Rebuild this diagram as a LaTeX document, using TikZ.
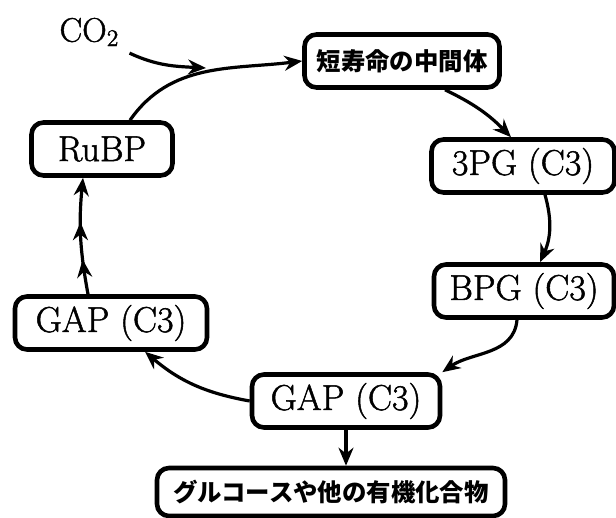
\documentclass[tikz,border=0pt]{standalone}
\usepackage{fontspec}
\usepackage{tikz}
\usetikzlibrary{arrows.meta,decorations.markings}
\newfontfamily\jpfont{Noto Sans CJK JP}
\newfontfamily\labelfont{Latin Modern Roman}[FakeBold=1.4]

\begin{document}
\begin{tikzpicture}[x=0.5pt, y=0.5pt,
    stage/.style={draw, line width=2.3pt, rounded corners=6pt, fill=white,
        minimum height=26.5pt, inner xsep=4pt, inner ysep=2pt,
        font=\labelfont\fontsize{18}{20}\selectfont},
    jpstage/.style={stage, font=\jpfont\bfseries\fontsize{12.2}{14}\selectfont},
    flow/.style={line width=1.6pt, -{Stealth[length=9pt, width=7.5pt]}},
    multiflow/.style={line width=1.6pt, -{Stealth[length=9pt, width=7.5pt]},
        postaction={decorate},
        decoration={markings,
            mark=at position 0.3 with {\arrow{Stealth[length=9pt, width=7.5pt]}},
            mark=at position 0.62 with {\arrow{Stealth[length=9pt, width=7.5pt]}}}}
]
    \useasboundingbox (0,0) rectangle (616,-518);

    % cycle stages
    \node (mid)  [jpstage, minimum width=97.5pt] at (402,-61)  {短寿命の中間体};
    \node (pga)  [stage, minimum width=91.5pt]   at (523,-166) {3PG (C3)};
    \node (bpg)  [stage, minimum width=90pt]     at (524,-291) {BPG (C3)};
    \node (gapb) [stage, minimum width=94pt]     at (346,-401) {GAP (C3)};
    \node (gapl) [stage, minimum width=96pt]     at (111,-323) {GAP (C3)};
    \node (rubp) [stage, minimum width=70.5pt]   at (102,-149) {RuBP};
    \node (prod) [jpstage, minimum width=174pt, minimum height=24pt] at (331,-492) {グルコースや他の有機化合物};

    \node (co2) [font=\labelfont\fontsize{17}{19}\selectfont] at (89,-32) {CO\raisebox{-0.3ex}{\fontsize{12}{14}\selectfont 2}};
    \coordinate (join) at (206,-68);

    \draw[flow] ([xshift=14pt]rubp.north) to[out=55, in=187] (mid.west);
    \draw[flow] ([xshift=2pt]co2.south east) to[out=-25, in=177] (join);
    \draw[flow] ([xshift=21.5pt]mid.south) to[bend left=10] ([xshift=-6pt]pga.north);
    \draw[flow] ([xshift=11pt]pga.south) to[bend left=20] ([xshift=8pt]bpg.north);
    \draw[flow] ([xshift=-3.5pt]bpg.south) to[out=-95, in=35] (gapb.north east);
    \draw[flow] (gapb.west) to[bend left=15] ([xshift=17pt]gapl.south);
    \draw[multiflow] ([xshift=-11.5pt]gapl.north) to[bend left=8] ([xshift=-9.5pt]rubp.south);
    \draw[flow] (gapb.south) -- (gapb.south |- prod.north);
\end{tikzpicture}
\end{document}
